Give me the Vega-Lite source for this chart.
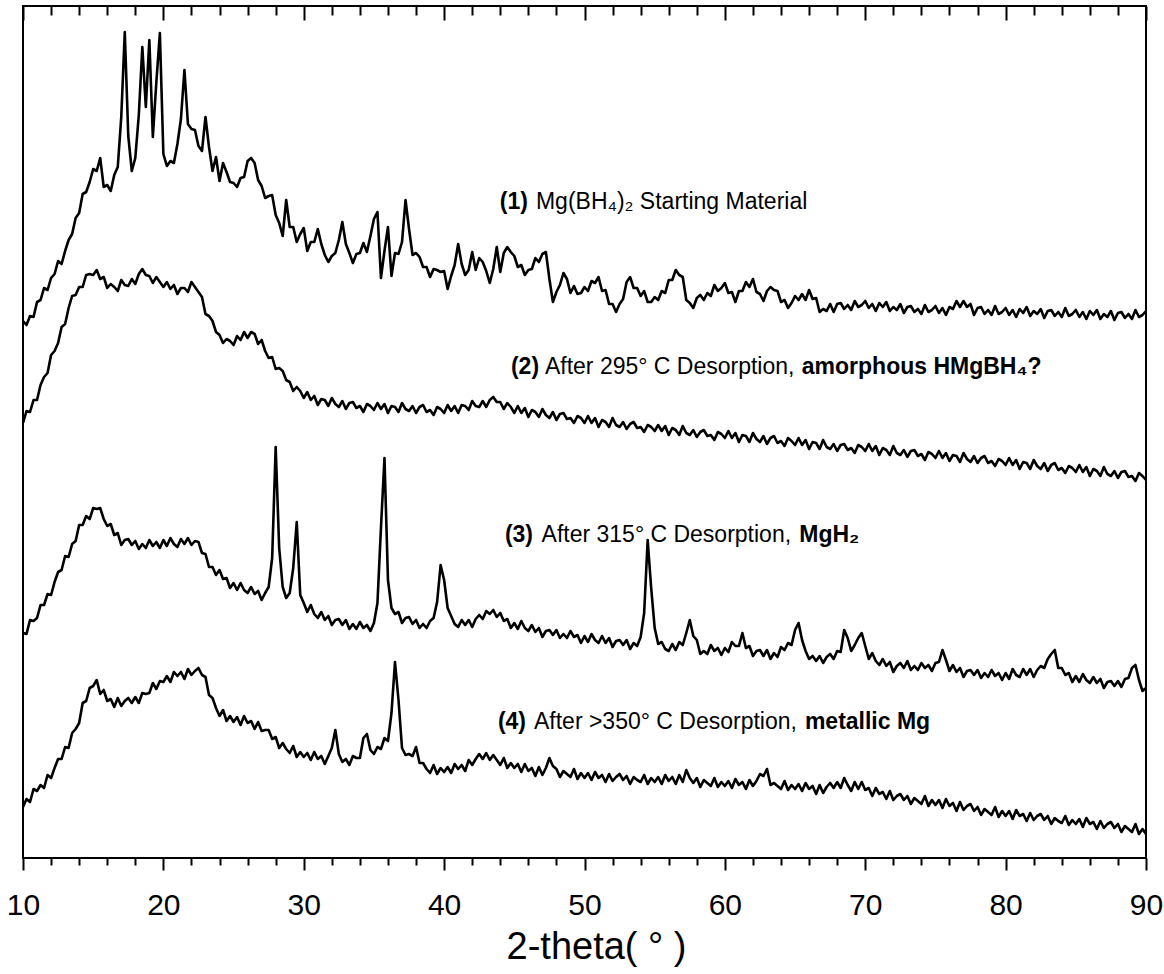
{
"$schema":"https://vega.github.io/schema/vega-lite/v6.json",
"width":1123,"height":852,
"autosize":{"type":"none"},
"padding":{"left":23,"top":6,"right":18,"bottom":116},
"background":"white",
"config":{"view":{"stroke":"black","strokeWidth":2},"font":"Liberation Sans"},
"datasets":{
"xrd":[
{"t":10,"a":537,"b":435,"c":225,"d":51},{"t":10.25,"a":533,"b":447,"c":224,"d":59},{"t":10.5,"a":542,"b":446,"c":238,"d":56},{"t":10.75,"a":541,"b":458,"c":237,"d":69},
{"t":11,"a":556,"b":458,"c":240,"d":67},{"t":11.25,"a":558,"b":473,"c":253,"d":73},{"t":11.5,"a":570,"b":481,"c":253,"d":70},{"t":11.75,"a":568,"b":485,"c":264,"d":83},
{"t":12,"a":580,"b":503,"c":263,"d":80},{"t":12.25,"a":584,"b":507,"c":276,"d":90},{"t":12.5,"a":597,"b":515,"c":286,"d":99},{"t":12.75,"a":594,"b":531,"c":288,"d":99},
{"t":13,"a":607,"b":534,"c":302,"d":111},{"t":13.25,"a":618,"b":550,"c":301,"d":110},{"t":13.5,"a":624,"b":562,"c":314,"d":125},{"t":13.75,"a":640,"b":563,"c":317,"d":129},
{"t":14,"a":645,"b":571,"c":333,"d":135},{"t":14.25,"a":664,"b":571,"c":333,"d":155},{"t":14.5,"a":666,"b":583,"c":342,"d":157},{"t":14.75,"a":676,"b":584,"c":339,"d":170},
{"t":15,"a":689,"b":583,"c":350,"d":172},{"t":15.25,"a":687,"b":588,"c":349,"d":178},{"t":15.5,"a":700,"b":579,"c":350,"d":164},{"t":15.75,"a":671,"b":581,"c":339,"d":168},
{"t":16,"a":673,"b":570,"c":332,"d":157},{"t":16.25,"a":667,"b":574,"c":334,"d":159},{"t":16.5,"a":683,"b":571,"c":323,"d":151},{"t":16.75,"a":691,"b":567,"c":325,"d":160},
{"t":17,"a":741,"b":578,"c":313,"d":152},{"t":17.25,"a":826,"b":573,"c":318,"d":157},{"t":17.5,"a":722,"b":572,"c":319,"d":160},{"t":17.75,"a":687,"b":579,"c":313,"d":155},
{"t":18,"a":700,"b":574,"c":317,"d":161},{"t":18.25,"a":743,"b":584,"c":309,"d":155},{"t":18.5,"a":811,"b":589,"c":314,"d":165},{"t":18.75,"a":751,"b":583,"c":310,"d":164},
{"t":19,"a":818,"b":582,"c":318,"d":165},{"t":19.25,"a":721,"b":575,"c":312,"d":175},{"t":19.5,"a":776,"b":581,"c":316,"d":169},{"t":19.75,"a":825,"b":576,"c":310,"d":177},
{"t":20,"a":704,"b":571,"c":318,"d":176},{"t":20.25,"a":692,"b":576,"c":312,"d":182},{"t":20.5,"a":697,"b":569,"c":320,"d":176},{"t":20.75,"a":695,"b":573,"c":314,"d":186},
{"t":21,"a":714,"b":564,"c":311,"d":182},{"t":21.25,"a":739,"b":570,"c":319,"d":186},{"t":21.5,"a":788,"b":570,"c":314,"d":179},{"t":21.75,"a":734,"b":566,"c":320,"d":189},
{"t":22,"a":729,"b":576,"c":313,"d":183},{"t":22.25,"a":728,"b":571,"c":317,"d":187},{"t":22.5,"a":712,"b":566,"c":316,"d":190},{"t":22.75,"a":707,"b":561,"c":305,"d":183},
{"t":23,"a":741,"b":544,"c":304,"d":181},{"t":23.25,"a":711,"b":542,"c":291,"d":163},{"t":23.5,"a":687,"b":537,"c":291,"d":160},{"t":23.75,"a":701,"b":526,"c":283,"d":150},
{"t":24,"a":677,"b":523,"c":288,"d":142},{"t":24.25,"a":695,"b":515,"c":279,"d":148},{"t":24.5,"a":686,"b":519,"c":280,"d":137},{"t":24.75,"a":676,"b":517,"c":270,"d":142},
{"t":25,"a":675,"b":513,"c":275,"d":136},{"t":25.25,"a":671,"b":522,"c":268,"d":141},{"t":25.5,"a":680,"b":518,"c":275,"d":133},{"t":25.75,"a":681,"b":526,"c":268,"d":142},
{"t":26,"a":697,"b":520,"c":265,"d":135},{"t":26.25,"a":700,"b":526,"c":271,"d":137},{"t":26.5,"a":695,"b":524,"c":264,"d":129},{"t":26.75,"a":678,"b":514,"c":267,"d":136},
{"t":27,"a":672,"b":518,"c":258,"d":127},{"t":27.25,"a":660,"b":507,"c":265,"d":128},{"t":27.5,"a":662,"b":500,"c":271,"d":128},{"t":27.75,"a":663,"b":501,"c":300,"d":119},
{"t":28,"a":643,"b":489,"c":411,"d":121},{"t":28.25,"a":635,"b":490,"c":310,"d":110},{"t":28.5,"a":622,"b":487,"c":271,"d":115},{"t":28.75,"a":658,"b":478,"c":260,"d":109},
{"t":29,"a":631,"b":476,"c":265,"d":105},{"t":29.25,"a":631,"b":467,"c":290,"d":112},{"t":29.5,"a":616,"b":471,"c":336,"d":101},{"t":29.75,"a":624,"b":467,"c":263,"d":106},
{"t":30,"a":630,"b":460,"c":255,"d":101},{"t":30.25,"a":607,"b":466,"c":246,"d":105},{"t":30.5,"a":616,"b":458,"c":253,"d":98},{"t":30.75,"a":616,"b":462,"c":244,"d":106},
{"t":31,"a":629,"b":453,"c":240,"d":99},{"t":31.25,"a":614,"b":459,"c":246,"d":102},{"t":31.5,"a":603,"b":458,"c":238,"d":94},{"t":31.75,"a":596,"b":452,"c":242,"d":102},
{"t":32,"a":602,"b":460,"c":233,"d":110},{"t":32.25,"a":605,"b":454,"c":238,"d":128},{"t":32.5,"a":618,"b":451,"c":239,"d":104},{"t":32.75,"a":636,"b":457,"c":233,"d":96},
{"t":33,"a":614,"b":449,"c":238,"d":99},{"t":33.25,"a":605,"b":455,"c":229,"d":93},{"t":33.5,"a":595,"b":456,"c":234,"d":102},{"t":33.75,"a":604,"b":450,"c":229,"d":100},
{"t":34,"a":605,"b":452,"c":236,"d":100},{"t":34.25,"a":615,"b":446,"c":230,"d":120},{"t":34.5,"a":606,"b":454,"c":233,"d":124},{"t":34.75,"a":622,"b":452,"c":227,"d":108},
{"t":35,"a":639,"b":448,"c":235,"d":104},{"t":35.25,"a":646,"b":455,"c":255,"d":111},{"t":35.5,"a":580,"b":449,"c":330,"d":109},{"t":35.75,"a":607,"b":454,"c":400,"d":120},
{"t":36,"a":631,"b":445,"c":278,"d":117},{"t":36.25,"a":582,"b":452,"c":250,"d":145},{"t":36.5,"a":605,"b":451,"c":244,"d":196},{"t":36.75,"a":604,"b":446,"c":246,"d":158},
{"t":37,"a":616,"b":455,"c":235,"d":110},{"t":37.25,"a":658,"b":449,"c":240,"d":103},{"t":37.5,"a":629,"b":447,"c":241,"d":104},{"t":37.75,"a":603,"b":452,"c":234,"d":102},
{"t":38,"a":605,"b":445,"c":238,"d":111},{"t":38.25,"a":601,"b":451,"c":230,"d":95},{"t":38.5,"a":591,"b":453,"c":234,"d":95},{"t":38.75,"a":591,"b":446,"c":230,"d":89},
{"t":39,"a":581,"b":448,"c":237,"d":85},{"t":39.25,"a":589,"b":443,"c":240,"d":93},{"t":39.5,"a":588,"b":451,"c":256,"d":84},{"t":39.75,"a":586,"b":449,"c":293,"d":90},
{"t":40,"a":587,"b":445,"c":278,"d":86},{"t":40.25,"a":569,"b":453,"c":250,"d":91},{"t":40.5,"a":582,"b":447,"c":242,"d":85},{"t":40.75,"a":593,"b":452,"c":234,"d":94},
{"t":41,"a":614,"b":445,"c":231,"d":89},{"t":41.25,"a":594,"b":453,"c":238,"d":93},{"t":41.5,"a":583,"b":452,"c":233,"d":87},{"t":41.75,"a":588,"b":448,"c":238,"d":98},
{"t":42,"a":606,"b":457,"c":231,"d":93},{"t":42.25,"a":588,"b":452,"c":239,"d":99},{"t":42.5,"a":600,"b":451,"c":243,"d":104},{"t":42.75,"a":596,"b":457,"c":239,"d":99},
{"t":43,"a":587,"b":451,"c":247,"d":105},{"t":43.25,"a":575,"b":458,"c":244,"d":98},{"t":43.5,"a":589,"b":461,"c":248,"d":103},{"t":43.75,"a":611,"b":456,"c":241,"d":98},
{"t":44,"a":586,"b":456,"c":245,"d":93},{"t":44.25,"a":605,"b":449,"c":237,"d":100},{"t":44.5,"a":611,"b":455,"c":239,"d":90},{"t":44.75,"a":606,"b":451,"c":230,"d":95},
{"t":45,"a":602,"b":445,"c":235,"d":90},{"t":45.25,"a":591,"b":452,"c":229,"d":94},{"t":45.5,"a":593,"b":445,"c":237,"d":86},{"t":45.75,"a":583,"b":450,"c":230,"d":94},
{"t":46,"a":588,"b":441,"c":227,"d":87},{"t":46.25,"a":589,"b":448,"c":233,"d":90},{"t":46.5,"a":600,"b":446,"c":226,"d":82},{"t":46.75,"a":596,"b":441,"c":230,"d":91},
{"t":47,"a":604,"b":449,"c":221,"d":83},{"t":47.25,"a":606,"b":443,"c":227,"d":90},{"t":47.5,"a":579,"b":440,"c":228,"d":100},{"t":47.75,"a":556,"b":446,"c":223,"d":92},
{"t":48,"a":566,"b":438,"c":228,"d":89},{"t":48.25,"a":573,"b":444,"c":220,"d":81},{"t":48.5,"a":585,"b":445,"c":224,"d":87},{"t":48.75,"a":579,"b":439,"c":220,"d":84},
{"t":49,"a":565,"b":440,"c":227,"d":81},{"t":49.25,"a":572,"b":435,"c":221,"d":89},{"t":49.5,"a":564,"b":442,"c":223,"d":79},{"t":49.75,"a":565,"b":440,"c":215,"d":85},
{"t":50,"a":571,"b":435,"c":222,"d":80},{"t":50.25,"a":567,"b":442,"c":216,"d":85},{"t":50.5,"a":577,"b":435,"c":224,"d":78},{"t":50.75,"a":575,"b":440,"c":218,"d":86},
{"t":51,"a":581,"b":431,"c":215,"d":80},{"t":51.25,"a":567,"b":438,"c":222,"d":83},{"t":51.5,"a":568,"b":436,"c":215,"d":76},{"t":51.75,"a":554,"b":431,"c":220,"d":84},
{"t":52,"a":554,"b":440,"c":211,"d":77},{"t":52.25,"a":546,"b":433,"c":217,"d":81},{"t":52.5,"a":554,"b":431,"c":218,"d":84},{"t":52.75,"a":559,"b":436,"c":213,"d":78},
{"t":53,"a":576,"b":429,"c":218,"d":82},{"t":53.25,"a":581,"b":434,"c":209,"d":74},{"t":53.5,"a":570,"b":436,"c":215,"d":81},{"t":53.75,"a":570,"b":430,"c":212,"d":78},
{"t":54,"a":562,"b":431,"c":221,"d":76},{"t":54.25,"a":567,"b":426,"c":245,"d":83},{"t":54.5,"a":556,"b":433,"c":318,"d":74},{"t":54.75,"a":556,"b":431,"c":270,"d":80},
{"t":55,"a":561,"b":427,"c":230,"d":76},{"t":55.25,"a":558,"b":433,"c":214,"d":81},{"t":55.5,"a":567,"b":427,"c":216,"d":74},{"t":55.75,"a":565,"b":432,"c":209,"d":83},
{"t":56,"a":578,"b":423,"c":207,"d":77},{"t":56.25,"a":578,"b":430,"c":214,"d":81},{"t":56.5,"a":588,"b":428,"c":208,"d":74},{"t":56.75,"a":583,"b":423,"c":216,"d":83},
{"t":57,"a":581,"b":432,"c":213,"d":76},{"t":57.25,"a":558,"b":425,"c":225,"d":88},{"t":57.5,"a":555,"b":423,"c":238,"d":80},{"t":57.75,"a":550,"b":428,"c":222,"d":75},
{"t":58,"a":560,"b":421,"c":218,"d":80},{"t":58.25,"a":563,"b":426,"c":204,"d":71},{"t":58.5,"a":558,"b":428,"c":207,"d":78},{"t":58.75,"a":565,"b":422,"c":204,"d":75},
{"t":59,"a":562,"b":423,"c":213,"d":72},{"t":59.25,"a":573,"b":418,"c":207,"d":80},{"t":59.5,"a":567,"b":426,"c":210,"d":71},{"t":59.75,"a":570,"b":424,"c":203,"d":76},
{"t":60,"a":575,"b":420,"c":210,"d":72},{"t":60.25,"a":565,"b":427,"c":206,"d":77},{"t":60.5,"a":566,"b":420,"c":216,"d":70},{"t":60.75,"a":556,"b":425,"c":212,"d":79},
{"t":61,"a":567,"b":416,"c":212,"d":73},{"t":61.25,"a":567,"b":423,"c":225,"d":76},{"t":61.5,"a":576,"b":422,"c":210,"d":69},{"t":61.75,"a":571,"b":416,"c":212,"d":78},
{"t":62,"a":579,"b":425,"c":202,"d":72},{"t":62.25,"a":566,"b":419,"c":207,"d":77},{"t":62.5,"a":564,"b":416,"c":208,"d":84},{"t":62.75,"a":557,"b":422,"c":202,"d":82},
{"t":63,"a":567,"b":414,"c":208,"d":89},{"t":63.25,"a":571,"b":420,"c":199,"d":73},{"t":63.5,"a":568,"b":422,"c":205,"d":75},{"t":63.75,"a":567,"b":415,"c":201,"d":72},
{"t":64,"a":556,"b":417,"c":211,"d":69},{"t":64.25,"a":558,"b":412,"c":208,"d":77},{"t":64.5,"a":550,"b":420,"c":215,"d":68},{"t":64.75,"a":555,"b":417,"c":213,"d":73},
{"t":65,"a":562,"b":413,"c":228,"d":69},{"t":65.25,"a":558,"b":420,"c":235,"d":74},{"t":65.5,"a":564,"b":413,"c":218,"d":67},{"t":65.75,"a":558,"b":418,"c":207,"d":75},
{"t":66,"a":568,"b":409,"c":199,"d":69},{"t":66.25,"a":559,"b":416,"c":202,"d":72},{"t":66.5,"a":560,"b":415,"c":197,"d":64},{"t":66.75,"a":546,"b":409,"c":202,"d":73},
{"t":67,"a":549,"b":418,"c":195,"d":65},{"t":67.25,"a":547,"b":411,"c":201,"d":71},{"t":67.5,"a":554,"b":409,"c":204,"d":75},{"t":67.75,"a":546,"b":414,"c":199,"d":70},
{"t":68,"a":554,"b":407,"c":207,"d":76},{"t":68.25,"a":555,"b":413,"c":206,"d":70},{"t":68.5,"a":549,"b":414,"c":228,"d":80},{"t":68.75,"a":553,"b":408,"c":220,"d":73},
{"t":69,"a":548,"b":410,"c":207,"d":67},{"t":69.25,"a":557,"b":405,"c":213,"d":76},{"t":69.5,"a":551,"b":413,"c":220,"d":69},{"t":69.75,"a":553,"b":411,"c":225,"d":76},
{"t":70,"a":557,"b":407,"c":212,"d":68},{"t":70.25,"a":550,"b":414,"c":199,"d":70},{"t":70.5,"a":554,"b":407,"c":205,"d":62},{"t":70.75,"a":547,"b":412,"c":197,"d":70},
{"t":71,"a":555,"b":403,"c":193,"d":64},{"t":71.25,"a":551,"b":410,"c":199,"d":66},{"t":71.5,"a":556,"b":408,"c":192,"d":59},{"t":71.75,"a":547,"b":403,"c":196,"d":67},
{"t":72,"a":551,"b":412,"c":186,"d":58},{"t":72.25,"a":548,"b":405,"c":192,"d":62},{"t":72.5,"a":554,"b":403,"c":195,"d":64},{"t":72.75,"a":545,"b":408,"c":190,"d":58},
{"t":73,"a":551,"b":401,"c":197,"d":62},{"t":73.25,"a":552,"b":407,"c":188,"d":54},{"t":73.5,"a":546,"b":408,"c":192,"d":60},{"t":73.75,"a":549,"b":402,"c":188,"d":57},
{"t":74,"a":544,"b":404,"c":195,"d":54},{"t":74.25,"a":553,"b":398,"c":190,"d":62},{"t":74.5,"a":546,"b":406,"c":193,"d":52},{"t":74.75,"a":548,"b":404,"c":187,"d":58},
{"t":75,"a":552,"b":400,"c":195,"d":53},{"t":75.25,"a":545,"b":407,"c":196,"d":58},{"t":75.5,"a":550,"b":400,"c":208,"d":50},{"t":75.75,"a":543,"b":405,"c":198,"d":59},
{"t":76,"a":551,"b":397,"c":187,"d":52},{"t":76.25,"a":549,"b":403,"c":193,"d":55},{"t":76.5,"a":557,"b":402,"c":186,"d":47},{"t":76.75,"a":551,"b":396,"c":190,"d":56},
{"t":77,"a":557,"b":405,"c":181,"d":48},{"t":77.25,"a":551,"b":399,"c":187,"d":52},{"t":77.5,"a":554,"b":396,"c":188,"d":54},{"t":77.75,"a":543,"b":402,"c":183,"d":47},
{"t":78,"a":550,"b":395,"c":188,"d":51},{"t":78.25,"a":551,"b":400,"c":180,"d":43},{"t":78.5,"a":544,"b":402,"c":185,"d":49},{"t":78.75,"a":548,"b":395,"c":181,"d":46},
{"t":79,"a":543,"b":397,"c":188,"d":43},{"t":79.25,"a":552,"b":392,"c":182,"d":51},{"t":79.5,"a":544,"b":399,"c":185,"d":41},{"t":79.75,"a":546,"b":397,"c":178,"d":47},
{"t":80,"a":550,"b":393,"c":185,"d":42},{"t":80.25,"a":543,"b":400,"c":179,"d":47},{"t":80.5,"a":548,"b":393,"c":189,"d":39},{"t":80.75,"a":541,"b":398,"c":183,"d":48},
{"t":81,"a":549,"b":389,"c":181,"d":42},{"t":81.25,"a":545,"b":396,"c":189,"d":44},{"t":81.5,"a":551,"b":395,"c":183,"d":37},{"t":81.75,"a":542,"b":389,"c":189,"d":45},
{"t":82,"a":547,"b":398,"c":181,"d":38},{"t":82.25,"a":544,"b":392,"c":188,"d":42},{"t":82.5,"a":549,"b":389,"c":192,"d":44},{"t":82.75,"a":540,"b":395,"c":190,"d":38},
{"t":83,"a":547,"b":387,"c":199,"d":42},{"t":83.25,"a":548,"b":393,"c":204,"d":34},{"t":83.5,"a":542,"b":395,"c":208,"d":40},{"t":83.75,"a":546,"b":388,"c":190,"d":37},
{"t":84,"a":541,"b":390,"c":190,"d":35},{"t":84.25,"a":550,"b":385,"c":183,"d":42},{"t":84.5,"a":542,"b":392,"c":185,"d":33},{"t":84.75,"a":544,"b":390,"c":176,"d":38},
{"t":85,"a":548,"b":386,"c":182,"d":34},{"t":85.25,"a":541,"b":393,"c":176,"d":39},{"t":85.5,"a":546,"b":386,"c":184,"d":31},{"t":85.75,"a":539,"b":391,"c":178,"d":40},
{"t":86,"a":547,"b":382,"c":175,"d":34},{"t":86.25,"a":543,"b":389,"c":181,"d":36},{"t":86.5,"a":548,"b":387,"c":175,"d":29},{"t":86.75,"a":539,"b":382,"c":179,"d":37},
{"t":87,"a":544,"b":391,"c":170,"d":30},{"t":87.25,"a":541,"b":384,"c":176,"d":34},{"t":87.5,"a":547,"b":382,"c":177,"d":36},{"t":87.75,"a":538,"b":387,"c":172,"d":30},
{"t":88,"a":545,"b":380,"c":177,"d":34},{"t":88.25,"a":546,"b":386,"c":171,"d":26},{"t":88.5,"a":540,"b":387,"c":179,"d":32},{"t":88.75,"a":544,"b":381,"c":180,"d":29},
{"t":89,"a":539,"b":382,"c":190,"d":26},{"t":89.25,"a":548,"b":377,"c":193,"d":34},{"t":89.5,"a":541,"b":385,"c":178,"d":24},{"t":89.75,"a":543,"b":382,"c":167,"d":29},
{"t":90,"a":547,"b":378,"c":170,"d":24}
],
"boldtxt":[
{"deg":43.97,"inten":656,"s":"(1)"},
{"deg":44.76,"inten":491,"s":"(2)"},
{"deg":65.48,"inten":491,"s":"amorphous HMgBH₄?"},
{"deg":44.33,"inten":323,"s":"(3)"},
{"deg":65.3,"inten":323,"s":"MgH₂"},
{"deg":43.83,"inten":136,"s":"(4)"},
{"deg":65.7,"inten":136,"s":"metallic Mg"}
],
"normtxt":[
{"deg":46.54,"inten":656,"s":"Mg(BH₄)₂ Starting Material"},
{"deg":47.18,"inten":491,"s":"After 295° C Desorption,"},
{"deg":46.94,"inten":323,"s":"After 315° C Desorption,"},
{"deg":46.4,"inten":136,"s":"After >350° C Desorption,"}
]
},
"resolve":{"axis":{"x":"independent"}},
"layer":[
{"data":{"name":"xrd"},
 "mark":{"type":"line","color":"black","strokeWidth":2.6,"strokeJoin":"round"},
 "encoding":{
  "x":{"field":"t","type":"quantitative","scale":{"domain":[10,90],"nice":false,"zero":false},
       "axis":{"orient":"bottom","values":[10,20,30,40,50,60,70,80,90],"format":"d","tickSize":12,"tickWidth":2,"tickColor":"black","domain":false,"grid":false,
               "labelFontSize":30,"labelFont":"Liberation Sans","labelColor":"black","labelPadding":20,"labelFlush":false,"labelOverlap":false,
               "title":"2-theta( ° )","titleFontSize":38,"titleFontWeight":"normal","titleFont":"Liberation Sans","titleColor":"black","titlePadding":8,"titleX":573}},
  "y":{"field":"a","type":"quantitative","scale":{"domain":[0,852],"nice":false,"zero":false},"axis":null}}},
{"data":{"name":"xrd"},
 "mark":{"type":"line","color":"black","strokeWidth":2.6,"strokeJoin":"round"},
 "encoding":{
  "x":{"field":"t","type":"quantitative","scale":{"domain":[10,90],"nice":false,"zero":false},
       "axis":{"orient":"bottom","values":[12,14,16,18,22,24,26,28,32,34,36,38,42,44,46,48,52,54,56,58,62,64,66,68,72,74,76,78,82,84,86,88],"tickSize":7,"tickWidth":2,"tickColor":"black","domain":false,"grid":false,"labels":false,"title":null}},
  "y":{"field":"b","type":"quantitative","scale":{"domain":[0,852],"nice":false,"zero":false},"axis":null}}},
{"data":{"name":"xrd"},
 "mark":{"type":"line","color":"black","strokeWidth":2.6,"strokeJoin":"round"},
 "encoding":{
  "x":{"field":"t","type":"quantitative","scale":{"domain":[10,90],"nice":false,"zero":false},
       "axis":{"orient":"top","values":[10,20,30,40,50,60,70,80,90],"tickSize":-14,"tickWidth":2,"tickColor":"black","domain":false,"grid":false,"labels":false,"title":null}},
  "y":{"field":"c","type":"quantitative","scale":{"domain":[0,852],"nice":false,"zero":false},"axis":null}}},
{"data":{"name":"xrd"},
 "mark":{"type":"line","color":"black","strokeWidth":2.6,"strokeJoin":"round"},
 "encoding":{
  "x":{"field":"t","type":"quantitative","scale":{"domain":[10,90],"nice":false,"zero":false},
       "axis":{"orient":"top","values":[12,14,16,18,22,24,26,28,32,34,36,38,42,44,46,48,52,54,56,58,62,64,66,68,72,74,76,78,82,84,86,88],"tickSize":-9,"tickWidth":2,"tickColor":"black","domain":false,"grid":false,"labels":false,"title":null}},
  "y":{"field":"d","type":"quantitative","scale":{"domain":[0,852],"nice":false,"zero":false},"axis":null}}},
{"data":{"name":"normtxt"},
 "mark":{"type":"text","align":"left","baseline":"middle","fontSize":23,"font":"Liberation Sans","color":"black"},
 "encoding":{
  "x":{"field":"deg","type":"quantitative","scale":{"domain":[10,90],"nice":false,"zero":false},"axis":null},
  "y":{"field":"inten","type":"quantitative","scale":{"domain":[0,852],"nice":false,"zero":false},"axis":null},
  "text":{"field":"s","type":"nominal"}}},
{"data":{"name":"boldtxt"},
 "mark":{"type":"text","align":"left","baseline":"middle","fontSize":23,"font":"Liberation Sans","fontWeight":"bold","color":"black"},
 "encoding":{
  "x":{"field":"deg","type":"quantitative","scale":{"domain":[10,90],"nice":false,"zero":false},"axis":null},
  "y":{"field":"inten","type":"quantitative","scale":{"domain":[0,852],"nice":false,"zero":false},"axis":null},
  "text":{"field":"s","type":"nominal"}}}
]
}
